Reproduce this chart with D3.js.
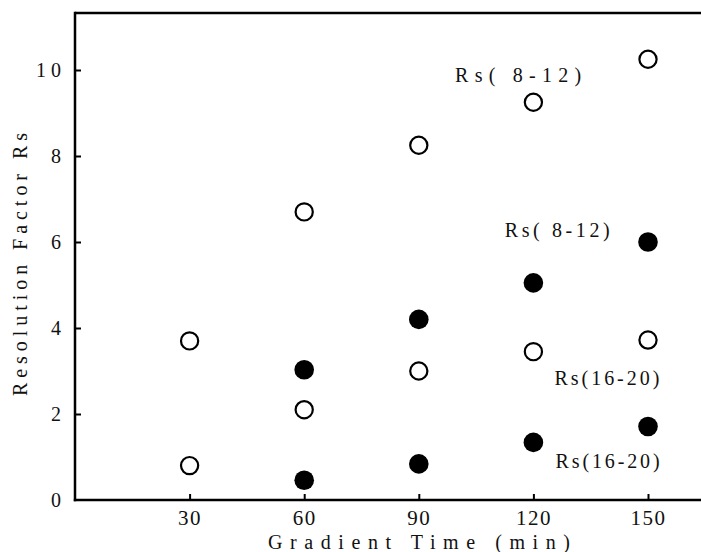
<!DOCTYPE html>
<html>
<head>
<meta charset="utf-8">
<script src="https://cdn.jsdelivr.net/npm/d3@7"></script>
<style>
  body { margin: 0; background: #fff; }
  text { font-family: "Liberation Serif", "DejaVu Serif", serif; fill: #111; }
</style>
</head>
<body>
<svg id="chart" width="701" height="552"></svg>
<script>
// gradient times (min)
var times = [30, 60, 90, 120, 150];

// open circles
var openUpper = [3.7, 6.7, 8.25, 9.25, 10.25];   // Rs(8-12)
var openLower = [0.8, 2.1, 3.0, 3.45, 3.72];      // Rs(16-20)

// filled circles (no value at 30 min)
var fillTimes = [60, 90, 120, 150];
var fillUpper = [3.03, 4.2, 5.05, 6.0];           // Rs(8-12)
var fillLower = [0.46, 0.84, 1.34, 1.71];         // Rs(16-20)

var yTicks = [0, 2, 4, 6, 8, 10];

// labels : text, time, value anchor
var labels = [
    { text: 'Rs( 8-12)', t: 99.5, v: 9.72, len: 126 },
    { text: 'Rs( 8-12)', t: 112.5, v: 6.12, len: 105 },
    { text: 'Rs(16-20)', t: 125.5, v: 2.68, len: 105 },
    { text: 'Rs(16-20)', t: 125.8, v: 0.74, len: 104 }
];

var svg = d3.select('#chart');

var x0 = 75, xr = 701, yb = 500, yt = 13;

var x = d3.scaleLinear().domain([0, 150]).range([x0, 648]);
var y = d3.scaleLinear().domain([0, 10]).range([yb, 70]);

// frame: top line
svg.append('line')
    .attr('x1', x0).attr('x2', xr)
    .attr('y1', yt).attr('y2', yt)
    .attr('stroke', '#000').attr('stroke-width', 2.5);

// y axis
var yAxis = d3.axisLeft(y)
    .tickValues(yTicks)
    .tickSize(-6)
    .tickPadding(14)
    .tickFormat(function (d) { return d === 10 ? '1 0' : d; });

var gy = svg.append('g')
    .attr('transform', 'translate(' + x0 + ',0)')
    .call(yAxis)
    .attr('font-family', '"Liberation Serif", serif')
    .attr('font-size', 20);
gy.select('.domain').remove();
gy.selectAll('.tick line').attr('stroke-width', 2).attr('stroke', '#000')
    .filter(function (d) { return d === 0; }).remove();
gy.selectAll('.tick text').attr('fill', '#111');

svg.append('line')
    .attr('x1', x0).attr('x2', x0)
    .attr('y1', yt - 1.2).attr('y2', yb + 1.2)
    .attr('stroke', '#000').attr('stroke-width', 2.5);

// x axis
var xAxis = d3.axisBottom(x)
    .tickValues(times)
    .tickSize(-6)
    .tickPadding(10);

var gx = svg.append('g')
    .attr('transform', 'translate(0,' + yb + ')')
    .call(xAxis)
    .attr('font-family', '"Liberation Serif", serif')
    .attr('font-size', 21);
gx.select('.domain').remove();
gx.selectAll('.tick line').attr('stroke-width', 2).attr('stroke', '#000');
gx.selectAll('.tick text').attr('fill', '#111').attr('letter-spacing', 1.5);

svg.append('line')
    .attr('x1', x0 - 1.2).attr('x2', xr)
    .attr('y1', yb).attr('y2', yb)
    .attr('stroke', '#000').attr('stroke-width', 2.5);

// axis titles
svg.append('text')
    .attr('x', 268).attr('y', 549)
    .attr('textLength', 302)
    .attr('lengthAdjust', 'spacing')
    .attr('font-size', 20)
    .text('Gradient Time   (min)');

svg.append('text')
    .attr('transform', 'translate(27,396) rotate(-90)')
    .attr('textLength', 263)
    .attr('lengthAdjust', 'spacing')
    .attr('font-size', 20)
    .text('Resolution Factor   Rs');

// points
function drawPoints(ts, vs, filled) {
    svg.append('g').selectAll('circle')
        .data(vs)
        .join('circle')
        .attr('cx', function (d, i) { return x(ts[i]); })
        .attr('cy', function (d) { return y(d); })
        .attr('r', filled ? 9.8 : 8.6)
        .attr('fill', filled ? '#000' : '#fff')
        .attr('stroke', '#000')
        .attr('stroke-width', filled ? 0 : 2.2);
}
drawPoints(times, openUpper, false);
drawPoints(times, openLower, false);
drawPoints(fillTimes, fillUpper, true);
drawPoints(fillTimes, fillLower, true);

// series labels
svg.append('g').selectAll('text')
    .data(labels)
    .join('text')
    .attr('x', function (d) { return x(d.t); })
    .attr('y', function (d) { return y(d.v); })
    .attr('textLength', function (d) { return d.len; })
    .attr('lengthAdjust', 'spacing')
    .attr('font-size', 20)
    .text(function (d) { return d.text; });
</script>
</body>
</html>
